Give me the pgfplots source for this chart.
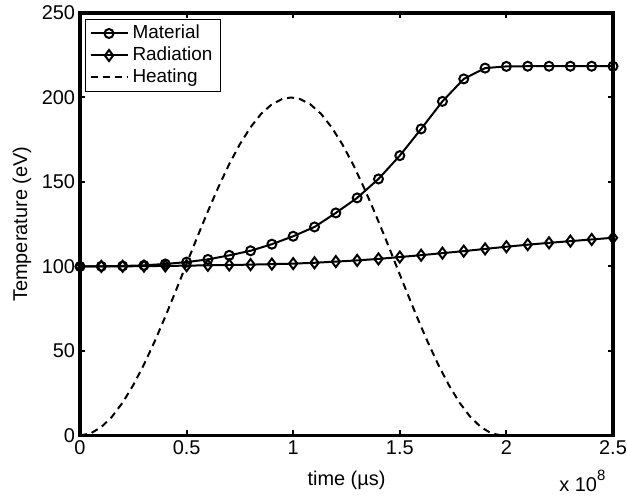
\documentclass[border=0pt]{standalone}
\usepackage{fontspec}
\setmainfont{Liberation Sans}
\usepackage{pgfplots}
\pgfplotsset{compat=1.18}
\begin{document}
\begin{tikzpicture}[line width=1.8bp]
\begin{axis}[name=ax,
  scale only axis, width=533bp, height=422.5bp,
  xmin=0, xmax=2.5, ymin=0, ymax=250,
  xtick={0,0.5,1,1.5,2,2.5}, ytick={0,50,100,150,200,250},
  tick align=inside, major tick length=5.5bp,
  every axis/.append style={line width=3.2bp},
  axis line style={line width=3.2bp, line cap=rect},
  every tick/.style={line width=2bp, black},
  tick label style={font=\fontsize{20}{24}\selectfont},
  /pgf/number format/assume math mode=true,
  label style={font=\fontsize{20}{24}\selectfont},
  xlabel={time (µs)}, ylabel={Temperature (eV)},
  xlabel style={at={(axis description cs:0.5,-0.1172)}, anchor=base},
  ylabel style={at={(axis description cs:-0.0994,0.5)}, anchor=base},
  clip=false,
  legend cell align=left,
  legend style={at={(axis description cs:0.00938,0.9858)}, anchor=north west,
    draw=black, line width=1bp, fill=white,
    font=\fontsize{19}{22}\selectfont,
    inner xsep=4bp, inner ysep=3bp, row sep=0pt,
    nodes={inner xsep=4bp, inner ysep=2bp, text height=14bp, text depth=4bp}},
  legend image code/.code={\draw[mark repeat=2,mark phase=2,#1] plot coordinates {(0bp,0bp) (18.5bp,0bp) (37bp,0bp)};},
]
\addplot[black, line width=2bp, mark=o, mark size=4.5bp, mark options={solid}] coordinates {
(0,100) (0.1,100.1) (0.2,100.3) (0.3,100.7) (0.4,101.5) (0.5,102.6) (0.6,104.2)
(0.7,106.6) (0.8,109.3) (0.9,113.2) (1.0,117.9) (1.1,123.4) (1.2,131.7) (1.3,140.6)
(1.4,151.8) (1.5,165.6) (1.6,181.4) (1.7,197.7) (1.8,211.0) (1.9,217.4) (2.0,218.4)
(2.1,218.5) (2.2,218.5) (2.3,218.5) (2.4,218.5) (2.5,218.5)};
\addplot[black, line width=2bp, mark=diamond, mark size=5.5bp, mark options={solid}] coordinates {
(0,100) (0.1,100.05) (0.2,100.1) (0.3,100.2) (0.4,100.35) (0.5,100.5) (0.6,100.7)
(0.7,100.9) (0.8,101.1) (0.9,101.4) (1.0,101.7) (1.1,102.2) (1.2,102.9) (1.3,103.6)
(1.4,104.5) (1.5,105.6) (1.6,106.7) (1.7,107.9) (1.8,109.1) (1.9,110.4) (2.0,111.7)
(2.1,112.9) (2.2,114.0) (2.3,115.0) (2.4,116.0) (2.5,117.0)};
\addplot[black, line width=2bp, dash pattern=on 7bp off 5bp] coordinates {
(0,0) (0.05,1.26) (0.10,4.99) (0.15,11.12) (0.20,19.47) (0.25,29.86) (0.30,42.0)
(0.35,55.6) (0.40,70.3) (0.45,85.8) (0.50,101.6) (0.55,117.4) (0.60,132.7) (0.65,147.2)
(0.70,160.6) (0.75,172.4) (0.80,182.4) (0.85,190.4) (0.90,196.0) (0.95,199.2) (0.99,200)
(1.03,199.2) (1.08,196.0) (1.13,190.4) (1.18,182.4) (1.23,172.4) (1.28,160.6) (1.33,147.2)
(1.38,132.7) (1.43,117.4) (1.48,101.6) (1.53,85.8) (1.58,70.3) (1.63,55.6) (1.68,42.0)
(1.73,29.86) (1.78,19.47) (1.83,11.12) (1.88,4.99) (1.93,1.26) (1.98,0)};
\legend{Material, Radiation, Heating}
\node[anchor=base east, font=\fontsize{20}{24}\selectfont, inner sep=0pt] at (axis description cs:0.9887,-0.1337) {x 10\raisebox{11bp}{\fontsize{15}{18}\selectfont 8}};
\end{axis}
\pgfresetboundingbox
\path ([shift={(-80bp,-60.5bp)}]ax.south west) rectangle ([shift={(14bp,13bp)}]ax.north east);
\end{tikzpicture}
\end{document}
